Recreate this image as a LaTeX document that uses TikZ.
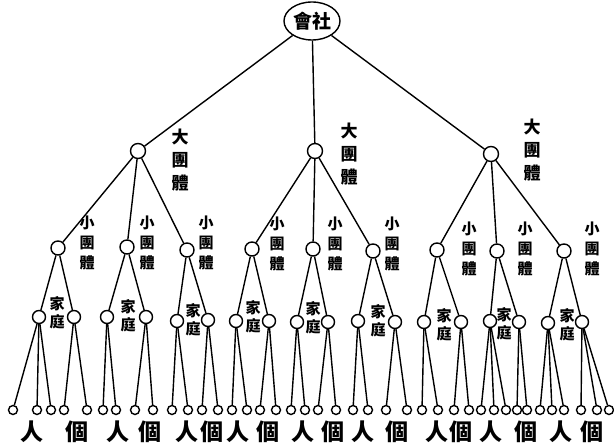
\documentclass[tikz,border=0pt]{standalone}
\usepackage{fontspec}
\newfontfamily\cjk{Noto Sans CJK TC}
\usetikzlibrary{shapes.geometric}
\begin{document}
\begin{tikzpicture}[
	x=1pt, y=-1pt,
	line width=1.4pt,
	big/.style={circle, draw, fill=white, minimum size=15pt, inner sep=+0pt},
	small/.style={circle, draw, fill=white, minimum size=14pt, inner sep=+0pt},
	home/.style={circle, draw, fill=white, minimum size=13pt, inner sep=+0pt},
	person/.style={circle, draw, fill=white, minimum size=9pt, inner sep=+0pt},
	lbig/.style={font=\cjk\bfseries\fontsize{17}{23}\selectfont, align=center, inner sep=+0pt},
	lsmall/.style={font=\cjk\bfseries\fontsize{15}{20}\selectfont, align=center, inner sep=+0pt},
	lhome/.style={font=\cjk\bfseries\fontsize{15}{18}\selectfont, align=center, inner sep=+0pt},
	lperson/.style={font=\cjk\bfseries\fontsize{23}{23}\selectfont, inner sep=+0pt}
]
\useasboundingbox (0,0) rectangle (614,446);
% society
\node[ellipse, draw, minimum width=56pt, minimum height=38pt, inner sep=+0pt,
	font=\cjk\bfseries\fontsize{19}{19}\selectfont] (T) at (312,21) {會社};
% big groups
\node[big] (B1) at (138,151) {};
\node[big] (B2) at (315,151) {};
\node[big] (B3) at (491,154) {};
\node[lbig] (LB1) at (180,160) {大\\團\\體};
\node[lbig] (LB2) at (349,154) {大\\團\\體};
\node[lbig] (LB3) at (532,150) {大\\團\\體};
% small groups
\node[small] (S1) at (58,248) {};
\node[small] (S2) at (127,247) {};
\node[small] (S3) at (187,250) {};
\node[small] (S4) at (252,249) {};
\node[small] (S5) at (313,249) {};
\node[small] (S6) at (373,251) {};
\node[small] (S7) at (437,250) {};
\node[small] (S8) at (497,251) {};
\node[small] (S9) at (564,251) {};
\node[lsmall] (LS1) at (87,243) {小\\團\\體};
\node[lsmall] (LS2) at (147,243) {小\\團\\體};
\node[lsmall] (LS3) at (206,243) {小\\團\\體};
\node[lsmall] (LS4) at (277,244) {小\\團\\體};
\node[lsmall] (LS5) at (335,244) {小\\團\\體};
\node[lsmall] (LS6) at (392,244) {小\\團\\體};
\node[lsmall] (LS7) at (469,249) {小\\團\\體};
\node[lsmall] (LS8) at (525,249) {小\\團\\體};
\node[lsmall] (LS9) at (592,249) {小\\團\\體};
% families
\node[home] (F1) at (39,317) {};
\node[home] (F2) at (74,317) {};
\node[home] (F3) at (107,317) {};
\node[home] (F4) at (146,317) {};
\node[home] (F5) at (177,321) {};
\node[home] (F6) at (208,320) {};
\node[home] (F7) at (236,321) {};
\node[home] (F8) at (269,321) {};
\node[home] (F9) at (297,322) {};
\node[home] (F10) at (328,322) {};
\node[home] (F11) at (358,321) {};
\node[home] (F12) at (395,322) {};
\node[home] (F13) at (424,322) {};
\node[home] (F14) at (461,322) {};
\node[home] (F15) at (490,321) {};
\node[home] (F16) at (519,322) {};
\node[home] (F17) at (548,323) {};
\node[home] (F18) at (582,322) {};
\node[lhome] (LF1) at (57,313) {家\\庭};
\node[lhome] (LF2) at (128,316) {家\\庭};
\node[lhome] (LF3) at (193,320) {家\\庭};
\node[lhome] (LF4) at (253,317) {家\\庭};
\node[lhome] (LF5) at (313,318) {家\\庭};
\node[lhome] (LF6) at (378,321) {家\\庭};
\node[lhome] (LF7) at (444,325) {家\\庭};
\node[lhome] (LF8) at (504,324) {家\\庭};
\node[lhome] (LF9) at (567,325) {家\\庭};
% persons
\node[person] (P1) at (13,410) {};  \node[person] (P2) at (37,410) {};
\node[person] (P3) at (51,410) {};  \node[person] (P4) at (64,410) {};
\node[person] (P5) at (87,410) {};  \node[person] (P6) at (103,410) {};
\node[person] (P7) at (116,410) {}; \node[person] (P8) at (135,410) {};
\node[person] (P9) at (153,410) {}; \node[person] (P10) at (172,410) {};
\node[person] (P11) at (188,410) {}; \node[person] (P12) at (202,410) {};
\node[person] (P13) at (218,410) {}; \node[person] (P14) at (232,410) {};
\node[person] (P15) at (247,410) {}; \node[person] (P16) at (260,410) {};
\node[person] (P17) at (276,410) {}; \node[person] (P18) at (291,410) {};
\node[person] (P19) at (305,410) {}; \node[person] (P20) at (318,410) {};
\node[person] (P21) at (336,410) {}; \node[person] (P22) at (353,410) {};
\node[person] (P23) at (368,410) {}; \node[person] (P24) at (386,410) {};
\node[person] (P25) at (407,410) {}; \node[person] (P26) at (422,410) {};
\node[person] (P27) at (438,410) {}; \node[person] (P28) at (454,410) {};
\node[person] (P29) at (469,410) {}; \node[person] (P30) at (481,410) {};
\node[person] (P31) at (494,410) {}; \node[person] (P32) at (506,410) {};
\node[person] (P33) at (517,410) {}; \node[person] (P34) at (527,410) {};
\node[person] (P35) at (540,410) {}; \node[person] (P36) at (552,410) {};
\node[person] (P37) at (564,410) {}; \node[person] (P38) at (581,410) {};
\node[person] (P39) at (597,410) {}; \node[person] (P40) at (609,410) {};
% bottom words
\node[lperson] (R1) at (32,432) {人};  \node[lperson] (G1) at (77,432) {個};
\node[lperson] (R2) at (118,432) {人}; \node[lperson] (G2) at (150,432) {個};
\node[lperson] (R3) at (187,432) {人}; \node[lperson] (G3) at (212,432) {個};
\node[lperson] (R4) at (238,432) {人}; \node[lperson] (G4) at (268,432) {個};
\node[lperson] (R5) at (303,432) {人}; \node[lperson] (G5) at (333,432) {個};
\node[lperson] (R6) at (363,432) {人}; \node[lperson] (G6) at (397,432) {個};
\node[lperson] (R7) at (437,432) {人}; \node[lperson] (G7) at (461,432) {個};
\node[lperson] (R8) at (491,432) {人}; \node[lperson] (G8) at (526,432) {個};
\node[lperson] (R9) at (561,432) {人}; \node[lperson] (G9) at (592,432) {個};
% edges
\draw (T) -- (B1); \draw (T) -- (B2); \draw (T) -- (B3);
\draw (B1) -- (S1); \draw (B1) -- (S2); \draw (B1) -- (S3);
\draw (B2) -- (S4); \draw (B2) -- (S5); \draw (B2) -- (S6);
\draw (B3) -- (S7); \draw (B3) -- (S8); \draw (B3) -- (S9);
\draw (S1) -- (F1); \draw (S1) -- (F2);
\draw (S2) -- (F3); \draw (S2) -- (F4);
\draw (S3) -- (F5); \draw (S3) -- (F6);
\draw (S4) -- (F7); \draw (S4) -- (F8);
\draw (S5) -- (F9); \draw (S5) -- (F10);
\draw (S6) -- (F11); \draw (S6) -- (F12);
\draw (S7) -- (F13); \draw (S7) -- (F14);
\draw (S8) -- (F15); \draw (S8) -- (F16);
\draw (S9) -- (F17); \draw (S9) -- (F18);
\draw (F1) -- (P1); \draw (F1) -- (P2); \draw (F1) -- (P3);
\draw (F2) -- (P4); \draw (F2) -- (P5);
\draw (F3) -- (P6); \draw (F3) -- (P7);
\draw (F4) -- (P8); \draw (F4) -- (P9);
\draw (F5) -- (P10); \draw (F5) -- (P11);
\draw (F6) -- (P12); \draw (F6) -- (P13);
\draw (F7) -- (P14); \draw (F7) -- (P15);
\draw (F8) -- (P16); \draw (F8) -- (P17);
\draw (F9) -- (P18); \draw (F9) -- (P19);
\draw (F10) -- (P20); \draw (F10) -- (P21);
\draw (F11) -- (P22); \draw (F11) -- (P23);
\draw (F12) -- (P24); \draw (F12) -- (P25);
\draw (F13) -- (P26); \draw (F13) -- (P27);
\draw (F14) -- (P28); \draw (F14) -- (P29);
\draw (F15) -- (P30); \draw (F15) -- (P31); \draw (F15) -- (P32);
\draw (F16) -- (P33); \draw (F16) -- (P34);
\draw (F17) -- (P35); \draw (F17) -- (P36); \draw (F17) -- (P37);
\draw (F18) -- (P38); \draw (F18) -- (P39); \draw (F18) -- (P40);
\end{tikzpicture}
\end{document}
